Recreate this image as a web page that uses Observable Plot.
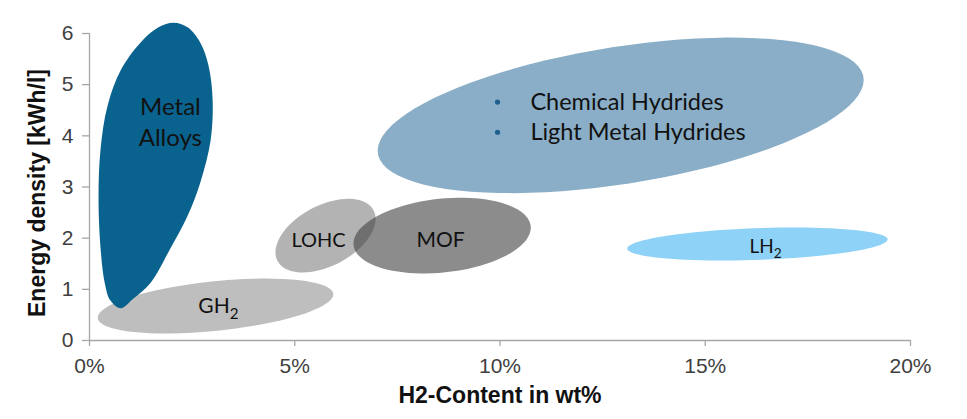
<!DOCTYPE html>
<html>
<head>
<meta charset="utf-8">
<script src="https://cdn.jsdelivr.net/npm/d3@7"></script>
<script src="https://cdn.jsdelivr.net/npm/@observablehq/plot@0.6"></script>
<style>
  html, body { margin: 0; padding: 0; background: #fff; }
  #chart svg { display: block; }
  #chart g[aria-label="x-axis tick"] path,
  #chart g[aria-label="y-axis tick"] path { stroke: #a6a6a6; stroke-width: 1.3; }
  #chart g[aria-label="x-axis tick label"] text,
  #chart g[aria-label="y-axis tick label"] text { fill: #404040; }
</style>
</head>
<body>
<div id="chart"></div>
<script>
// ---- data ----
const xTicks = [0, 5, 10, 15, 20];           // H2-content, wt%
const yTicks = [0, 1, 2, 3, 4, 5, 6];        // energy density, kWh/l
const xTitle = "H2-Content in wt%";
const yTitle = "Energy density [kWh/l]";

// elliptical regions: centre, half extents and tilt phase
const ellipseNames = ["GH2", "LOHC", "MOF", "Chemical Hydrides", "LH2"];
const ellipseCx    = [3.07, 5.75, 8.59, 12.94, 16.27];
const ellipseCy    = [0.674, 2.05, 2.05, 4.40, 1.886];
const ellipseWx    = [2.87, 1.22, 2.16, 5.92, 3.17];
const ellipseWy    = [0.537, 0.72, 0.74, 1.52, 0.322];
const ellipseTilt  = [65, 63, 78, 63, 74];
const ellipseColor = ["#bebebe", "#b3b3b3", "#464646", "#8aaec7", "#8fd2f7"];
const ellipseAlpha = [1, 1, 0.62, 1, 1];

// metal alloys teardrop outline
const alloyX = [2.05, 2.39, 2.70, 2.90, 3.00, 2.95, 2.70, 2.39, 1.97, 1.49, 1.07, 0.76, 0.51, 0.37, 0.27, 0.22, 0.27, 0.44, 0.76, 1.24, 1.68];
const alloyY = [6.21, 6.12, 5.82, 5.37, 4.69, 3.91, 3.09, 2.44, 1.80, 1.13, 0.82, 0.63, 0.78, 1.13, 1.80, 2.78, 3.75, 4.59, 5.28, 5.82, 6.12];

// region labels
const labelText = ["Metal", "Alloys", "LOHC", "MOF", "GH2", "LH2"];
const labelX    = [1.97, 1.97, 5.58, 8.55, 3.14, 16.47];
const labelY    = [4.55, 3.95, 1.95, 1.95, 0.66, 1.83];
const labelSize = [24, 24, 20, 21, 21, 19];

// bullet list inside the chemical hydrides region
const bulletText = ["Chemical Hydrides", "Light Metal Hydrides"];
const bulletX = 9.94, bulletTextX = 10.74;
const bulletY = [4.66, 4.07];

// ---- build ----
function ellipsePoints(i) {
  const rad = Math.PI / 180, ph = ellipseTilt[i] * rad;
  return d3.range(0, 360, 4).map(t => ({
    x: ellipseCx[i] + ellipseWx[i] * Math.cos(t * rad),
    y: ellipseCy[i] + ellipseWy[i] * Math.cos(t * rad + ph)
  }));
}
const ellipseMark = i => Plot.line(ellipsePoints(i), {
  x: "x", y: "y", curve: "linear-closed", stroke: "none",
  fill: ellipseColor[i], fillOpacity: ellipseAlpha[i]
});
const alloy = alloyX.map((x, i) => ({x, y: alloyY[i]}));
const labels = labelText.map((t, i) => ({t, x: labelX[i], y: labelY[i], s: labelSize[i]}));
const bullets = bulletText.map((t, i) => ({t, y: bulletY[i]}));

const chart = Plot.plot({
  width: 967,
  height: 419,
  marginLeft: 89,
  marginRight: 57,
  marginTop: 33,
  marginBottom: 79,
  style: { fontFamily: "'Liberation Sans', Arial, sans-serif", background: "#fff" },
  x: { domain: [0, 20] },
  y: { domain: [0, 6] },
  marks: [
    ellipseMark(0),
    Plot.line(alloy, { x: "x", y: "y", curve: "catmull-rom-closed", stroke: "none", fill: "#005d89", fillOpacity: 0.96 }),
    ellipseMark(1),
    ellipseMark(2),
    ellipseMark(3),
    ellipseMark(4),
    Plot.ruleX([0], { y1: 0, y2: 6, stroke: "#a6a6a6", strokeWidth: 1.3 }),
    Plot.ruleY([0], { x1: 0, x2: 20, stroke: "#a6a6a6", strokeWidth: 1.3 }),
    Plot.axisX({ ticks: xTicks, tickFormat: d => d + "%", tickSize: 6, tickPadding: 12, fontSize: 21, label: null }),
    Plot.axisY({ ticks: yTicks, tickFormat: d => String(d), tickSize: 7, tickPadding: 9, fontSize: 21, label: null }),
    Plot.text([xTitle], { frameAnchor: "bottom", textAnchor: "middle", lineAnchor: "middle", dy: 55, fontSize: 23, fontWeight: "bold", fill: "#111" }),
    Plot.text([yTitle], { frameAnchor: "left", textAnchor: "middle", lineAnchor: "middle", dx: -52, dy: 6, rotate: -90, fontSize: 23, fontWeight: "bold", fill: "#111" }),
    Plot.text(labels, { x: "x", y: "y", text: "t", fontSize: "s", fill: "#111", fontFamily: "Lato, 'Open Sans', sans-serif" }),
    Plot.dot(bullets, { x: () => bulletX, y: "y", r: 2.6, fill: "#1f5f8e", stroke: "none" }),
    Plot.text(bullets, { x: () => bulletTextX, y: "y", text: "t", textAnchor: "start", fontSize: 23.5, fill: "#111", fontFamily: "Lato, 'Open Sans', sans-serif" })
  ]
});
document.getElementById("chart").appendChild(chart);

// subscripts for GH2 / LH2
chart.querySelectorAll("text").forEach(el => {
  if (el.children.length === 0 && (el.textContent === "GH2" || el.textContent === "LH2")) {
    const base = el.textContent.slice(0, 2);
    el.textContent = base;
    const sub = document.createElementNS("http://www.w3.org/2000/svg", "tspan");
    sub.setAttribute("dy", "0.35em");
    sub.setAttribute("font-size", "0.72em");
    sub.textContent = "2";
    el.appendChild(sub);
  }
});
</script>
</body>
</html>
